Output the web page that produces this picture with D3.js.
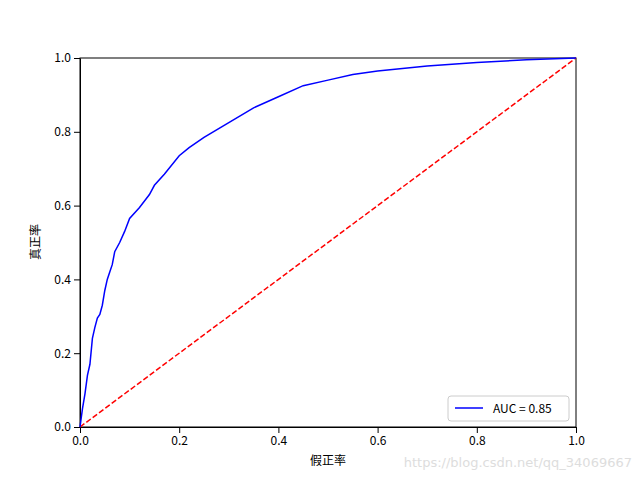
<!DOCTYPE html>
<html><head><meta charset="utf-8">
<script src="https://cdn.jsdelivr.net/npm/d3@7"></script>
<style>body{margin:0;background:#fff}</style>
</head><body>
<script>
// ROC curve points
var fpr = [0,0.005,0.01,0.015,0.02,0.025,0.03,0.035,0.04,0.045,0.05,0.055,0.06,0.065,0.07,0.08,0.09,0.1,0.12,0.14,0.15,0.17,0.2,0.22,0.25,0.3,0.35,0.4,0.45,0.5,0.55,0.6,0.7,0.8,0.9,1];
var tpr = [0,0.05,0.09,0.14,0.17,0.24,0.27,0.295,0.305,0.33,0.37,0.40,0.42,0.44,0.475,0.5,0.53,0.565,0.595,0.63,0.655,0.685,0.735,0.757,0.785,0.825,0.865,0.895,0.925,0.94,0.955,0.965,0.978,0.988,0.995,1];
var diag = [0,1];
var ticks = [0,0.2,0.4,0.6,0.8,1.0];

var font = "'Noto Sans CJK SC', 'DejaVu Sans', sans-serif";
var svg = d3.select("body").append("svg").attr("width",640).attr("height",480);
var x = d3.scaleLinear().domain([0,1]).range([80,576]);
var y = d3.scaleLinear().domain([0,1]).range([427,58]);

svg.append("g").attr("transform","translate(0,427)")
  .call(d3.axisBottom(x).tickValues(ticks).tickFormat(d3.format(".1f")).tickSizeOuter(0))
  .call(g=>g.selectAll("text").attr("font-size",12).attr("font-family",font).attr("fill","#000"));
svg.append("g").attr("transform","translate(80,0)")
  .call(d3.axisLeft(y).tickValues(ticks).tickFormat(d3.format(".1f")).tickSizeOuter(0))
  .call(g=>g.selectAll("text").attr("font-size",12).attr("font-family",font).attr("fill","#000"));
svg.append("rect").attr("x",80).attr("y",58).attr("width",496).attr("height",369)
  .attr("fill","none").attr("stroke","#000").attr("stroke-width",1);

var line = d3.line().x(d=>x(d[0])).y(d=>y(d[1]));
svg.append("path").datum(diag.map(d=>[d,d])).attr("d",line)
  .attr("fill","none").attr("stroke","red").attr("stroke-width",1.5).attr("stroke-dasharray","5.5,2.4");
svg.append("path").datum(fpr.map((d,i)=>[d,tpr[i]])).attr("d",line)
  .attr("fill","none").attr("stroke","blue").attr("stroke-width",1.5);

svg.append("text").attr("x",328).attr("y",465).attr("text-anchor","middle")
  .attr("font-size",12).attr("font-family",font).text("假正率");
svg.append("text").attr("transform","translate(40,242) rotate(-90)").attr("text-anchor","middle")
  .attr("font-size",12).attr("font-family",font).text("真正率");

// legend
var lg = svg.append("g");
lg.append("rect").attr("x",448).attr("y",396).attr("width",121).attr("height",25).attr("rx",3)
  .attr("fill","#fff").attr("fill-opacity",0.8).attr("stroke","#ccc");
lg.append("line").attr("x1",455).attr("x2",483).attr("y1",408).attr("y2",408).attr("stroke","blue").attr("stroke-width",1.5);
lg.append("text").attr("x",493).attr("y",413).attr("font-size",12).attr("font-family",font).text("AUC = 0.85");

svg.append("text").attr("x",632).attr("y",467).attr("text-anchor","end").attr("font-size",13)
  .attr("font-family","'DejaVu Sans', sans-serif").attr("fill","#ddd").text("https://blog.csdn.net/qq_34069667");
</script>
</body></html>
